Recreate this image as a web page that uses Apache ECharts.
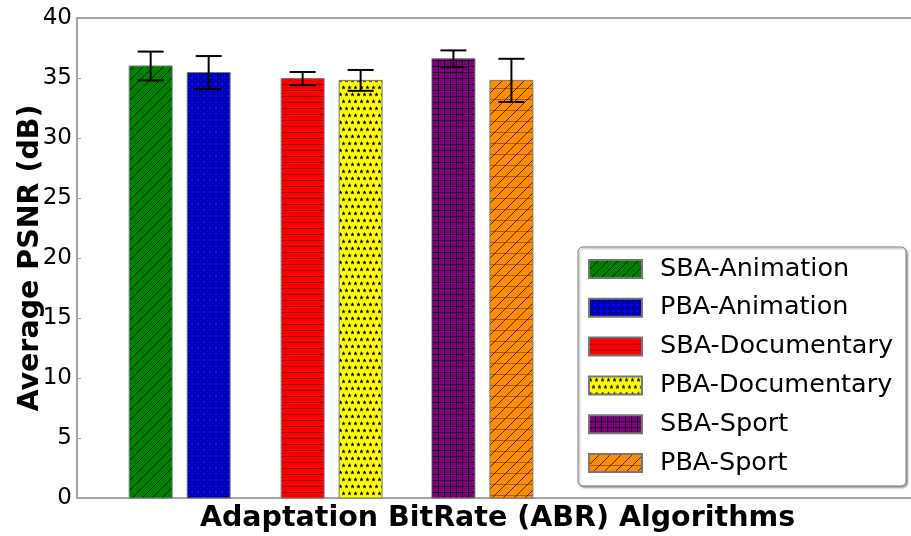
<!DOCTYPE html>
<html>
<head>
<meta charset="utf-8">
<script src="https://cdn.jsdelivr.net/npm/echarts@6/dist/echarts.min.js"></script>
<style>
  html, body { margin: 0; padding: 0; background: #fff; overflow: hidden; }
  #chart { width: 911px; height: 536px; }
</style>
</head>
<body>
<div id="chart"></div>
<script>
// Average PSNR per adaptation algorithm and content type
const seriesNames = ['SBA-Animation', 'PBA-Animation', 'SBA-Documentary', 'PBA-Documentary', 'SBA-Sport', 'PBA-Sport'];
const psnrMean = [36.0, 35.45, 34.95, 34.8, 36.6, 34.8];
const psnrErr = [1.2, 1.38, 0.55, 0.87, 0.7, 1.8];
const yTicks = [0, 5, 10, 15, 20, 25, 30, 35, 40];

// Layout: bar slots along a hidden value axis, grouped in pairs
const barSlots = [1.27, 2.27, 3.89, 4.89, 6.49, 7.49];
const barWidthUnits = 0.74;
const FONT = 'DejaVu Sans';

// Hatch fills drawn onto small repeating canvases
function hatch(bg, w, h, draw) {
  const c = document.createElement('canvas');
  c.width = w; c.height = h;
  const ctx = c.getContext('2d');
  ctx.fillStyle = bg;
  ctx.fillRect(0, 0, w, h);
  ctx.strokeStyle = '#000';
  ctx.fillStyle = '#000';
  ctx.lineWidth = 1;
  draw(ctx, w, h);
  return { image: c, repeat: 'repeat' };
}
function diag(ctx, w, h) {
  ctx.beginPath();
  ctx.moveTo(-w, h); ctx.lineTo(0, 0);
  ctx.moveTo(0, h); ctx.lineTo(w, 0);
  ctx.moveTo(w, h); ctx.lineTo(2 * w, 0);
  ctx.stroke();
}
function star(ctx, cx, cy, ro, ri) {
  ctx.beginPath();
  for (let i = 0; i < 10; i++) {
    const r = i % 2 ? ri : ro;
    const a = -Math.PI / 2 + i * Math.PI / 5;
    const x = cx + r * Math.cos(a), y = cy + r * Math.sin(a);
    i ? ctx.lineTo(x, y) : ctx.moveTo(x, y);
  }
  ctx.closePath();
  ctx.fill();
}

const fills = [
  hatch('#008000', 10, 10, (ctx, w, h) => { ctx.strokeStyle = 'rgba(0,0,0,0.75)'; diag(ctx, w, h); }),
  hatch('#0000ff', 6, 6, (ctx) => { ctx.strokeStyle = 'rgba(0,0,0,0.8)'; ctx.beginPath(); ctx.arc(3, 3, 2.0, 0, Math.PI * 2); ctx.stroke(); }),
  hatch('#ff0000', 4, 6, (ctx, w) => { ctx.strokeStyle = 'rgba(60,0,0,0.55)'; ctx.beginPath(); ctx.moveTo(0, 0.5); ctx.lineTo(w, 0.5); ctx.stroke(); }),
  hatch('#ffff00', 6, 14, (ctx) => { star(ctx, 1.5, 3.5, 2.4, 1.0); star(ctx, 4.5, 10.5, 2.4, 1.0); }),
  hatch('#800080', 6, 6, (ctx, w, h) => {
    ctx.strokeStyle = 'rgba(0,0,0,0.7)';
    ctx.beginPath(); ctx.moveTo(0.5, 0); ctx.lineTo(0.5, h); ctx.moveTo(0, 0.5); ctx.lineTo(w, 0.5); ctx.stroke();
  }),
  hatch('#ff8c00', 11, 11, (ctx, w, h) => {
    ctx.strokeStyle = 'rgba(110,50,0,0.55)';
    ctx.beginPath(); ctx.moveTo(0, 0.5); ctx.lineTo(w, 0.5); ctx.stroke();
    ctx.strokeStyle = 'rgba(0,0,0,0.7)';
    diag(ctx, w, h);
  })
];

const chart = echarts.init(document.getElementById('chart'), null, { renderer: 'canvas' });

const barSeries = seriesNames.map((name, i) => ({
  name: name,
  type: 'custom',
  itemStyle: { color: fills[i], borderColor: '#777', borderWidth: 1 },
  data: [[barSlots[i], psnrMean[i]]],
  renderItem: function (params, api) {
    const top = api.coord([api.value(0), api.value(1)]);
    const base = api.coord([api.value(0), 0]);
    const w = api.size([barWidthUnits, 0])[0];
    return {
      type: 'rect',
      shape: { x: top[0] - w / 2, y: top[1], width: w, height: base[1] - top[1] },
      style: { fill: fills[i], stroke: '#777', lineWidth: 1 }
    };
  },
  z: 2
}));

// Error bars: one item per bar, [slot, low, high]
const errorSeries = {
  name: 'errorbars',
  type: 'custom',
  encode: { x: 0, y: [1, 2] },
  data: psnrMean.map((m, i) => [barSlots[i], m - psnrErr[i], m + psnrErr[i]]),
  renderItem: function (params, api) {
    const lo = api.coord([api.value(0), api.value(1)]);
    const hi = api.coord([api.value(0), api.value(2)]);
    const cap = 13;
    return {
      type: 'group',
      children: [
        { type: 'line', shape: { x1: lo[0], y1: lo[1], x2: hi[0], y2: hi[1] }, style: { stroke: '#000', lineWidth: 2 } },
        { type: 'line', shape: { x1: lo[0] - cap, y1: lo[1], x2: lo[0] + cap, y2: lo[1] }, style: { stroke: '#000', lineWidth: 2 } },
        { type: 'line', shape: { x1: hi[0] - cap, y1: hi[1], x2: hi[0] + cap, y2: hi[1] }, style: { stroke: '#000', lineWidth: 2 } }
      ]
    };
  },
  z: 3
};

chart.setOption({
  animation: false,
  backgroundColor: '#fff',
  textStyle: { fontFamily: FONT },
  grid: { left: 77, right: -7, top: 18, bottom: 38, outerBoundsMode: 'none' },
  xAxis: [
    {
      type: 'value', min: 0, max: 14.5, position: 'bottom',
      axisLine: { show: true, lineStyle: { color: '#a3a3a3', width: 2 } },
      axisTick: { show: false }, axisLabel: { show: false }, splitLine: { show: false },
      name: 'Adaptation BitRate (ABR) Algorithms', nameLocation: 'middle', nameGap: 6,
      nameTextStyle: { fontFamily: FONT, fontSize: 28.5, fontWeight: 'bold', color: '#000', verticalAlign: 'top' }
    },
    {
      type: 'value', min: 0, max: 14.5, position: 'top',
      axisLine: { show: true, lineStyle: { color: '#a3a3a3', width: 2 } },
      axisTick: { show: false }, axisLabel: { show: false }, splitLine: { show: false }
    }
  ],
  yAxis: {
    type: 'value', min: yTicks[0], max: yTicks[yTicks.length - 1], interval: 5,
    axisLine: { show: true, lineStyle: { color: '#a3a3a3', width: 2 } },
    axisTick: { show: true, inside: true, length: 4, lineStyle: { color: '#a3a3a3', width: 1 } },
    axisLabel: { fontFamily: FONT, fontSize: 23, color: '#000', margin: 5 },
    splitLine: { show: false },
    name: 'Average PSNR (dB)', nameLocation: 'middle', nameGap: 32, nameMoveOverlap: false,
    nameTextStyle: { fontFamily: FONT, fontSize: 28.5, fontWeight: 'bold', color: '#000' }
  },
  legend: {
    data: seriesNames,
    orient: 'vertical',
    left: 578, top: 247,
    icon: 'rect',
    itemWidth: 53, itemHeight: 18,
    itemGap: 12.8,
    padding: [9, 13, 10, 10],
    backgroundColor: '#fff',
    borderColor: '#777', borderWidth: 1, borderRadius: 5,
    shadowColor: 'rgba(0,0,0,0.35)', shadowBlur: 2, shadowOffsetX: 1.5, shadowOffsetY: 1.5,
    selectedMode: false,
    textStyle: { fontFamily: FONT, fontSize: 25.5, color: '#000', lineHeight: 24, padding: [0, 0, 0, 13] }
  },
  series: barSeries.concat([errorSeries])
});
</script>
</body>
</html>
